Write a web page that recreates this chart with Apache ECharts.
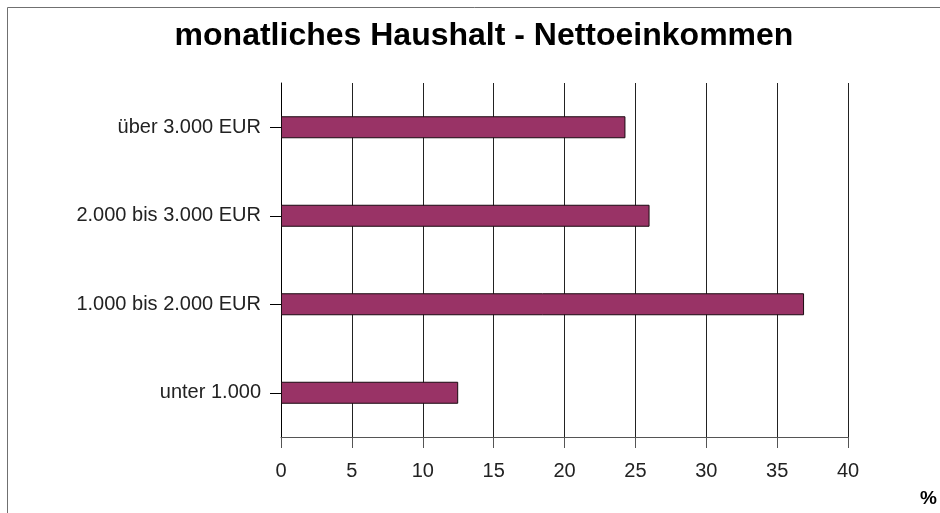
<!DOCTYPE html>
<html>
<head>
<meta charset="utf-8">
<script src="https://cdn.jsdelivr.net/npm/echarts@6/dist/echarts.min.js"></script>
<style>
  html, body { margin: 0; padding: 0; background: #fff; }
  #chart { width: 940px; height: 513px; }
</style>
</head>
<body>
<div id="chart"></div>
<script>
// categories bottom -> top (category axis on y starts at the bottom)
const categories = ['unter 1.000', '1.000 bis 2.000 EUR', '2.000 bis 3.000 EUR', 'über 3.000 EUR'];
const values = [12.5, 36.9, 26.0, 24.3];

const chartDom = document.getElementById('chart');
const myChart = echarts.init(chartDom);

const option = {
  animation: false,
  backgroundColor: '#fff',
  graphic: [
    {
      type: 'rect',
      shape: { x: 7.5, y: 7.5, width: 1000, height: 1000 },
      style: { fill: 'none', stroke: '#707070', lineWidth: 1 }
    }
  ],
  title: [
    {
      text: 'monatliches Haushalt - Nettoeinkommen',
      left: 479,
      textAlign: 'center',
      top: 15,
      textStyle: {
        fontFamily: 'Liberation Sans',
        fontWeight: 'bold',
        fontSize: 32,
        color: '#000'
      }
    },
    {
      text: '%',
      left: 915,
      top: 484,
      textStyle: {
        fontFamily: 'Liberation Sans',
        fontWeight: 'bold',
        fontSize: 19,
        color: '#000'
      }
    }
  ],
  grid: {
    left: 281,
    right: 92,
    top: 83,
    bottom: 76,
    containLabel: false
  },
  xAxis: {
    type: 'value',
    min: 0,
    max: 40,
    interval: 5,
    axisLine: { show: true, lineStyle: { color: '#555', width: 1 } },
    axisTick: { show: true, length: 11, lineStyle: { color: '#555' } },
    axisLabel: {
      margin: 24,
      fontFamily: 'Liberation Sans',
      fontSize: 20,
      color: '#222'
    },
    splitLine: { show: true, lineStyle: { color: '#222', width: 1 } }
  },
  yAxis: {
    type: 'category',
    data: categories,
    axisLine: { show: true, lineStyle: { color: '#000', width: 1 } },
    axisTick: { show: true, length: 11, alignWithLabel: true, lineStyle: { color: '#000' } },
    axisLabel: {
      margin: 20,
      fontFamily: 'Liberation Sans',
      fontSize: 20,
      color: '#222'
    },
    splitLine: { show: false }
  },
  series: [
    {
      type: 'bar',
      data: values,
      barWidth: 22,
      itemStyle: {
        color: '#993366',
        borderColor: '#1a0a10',
        borderWidth: 1
      }
    }
  ]
};

option && myChart.setOption(option);
</script>
</body>
</html>
